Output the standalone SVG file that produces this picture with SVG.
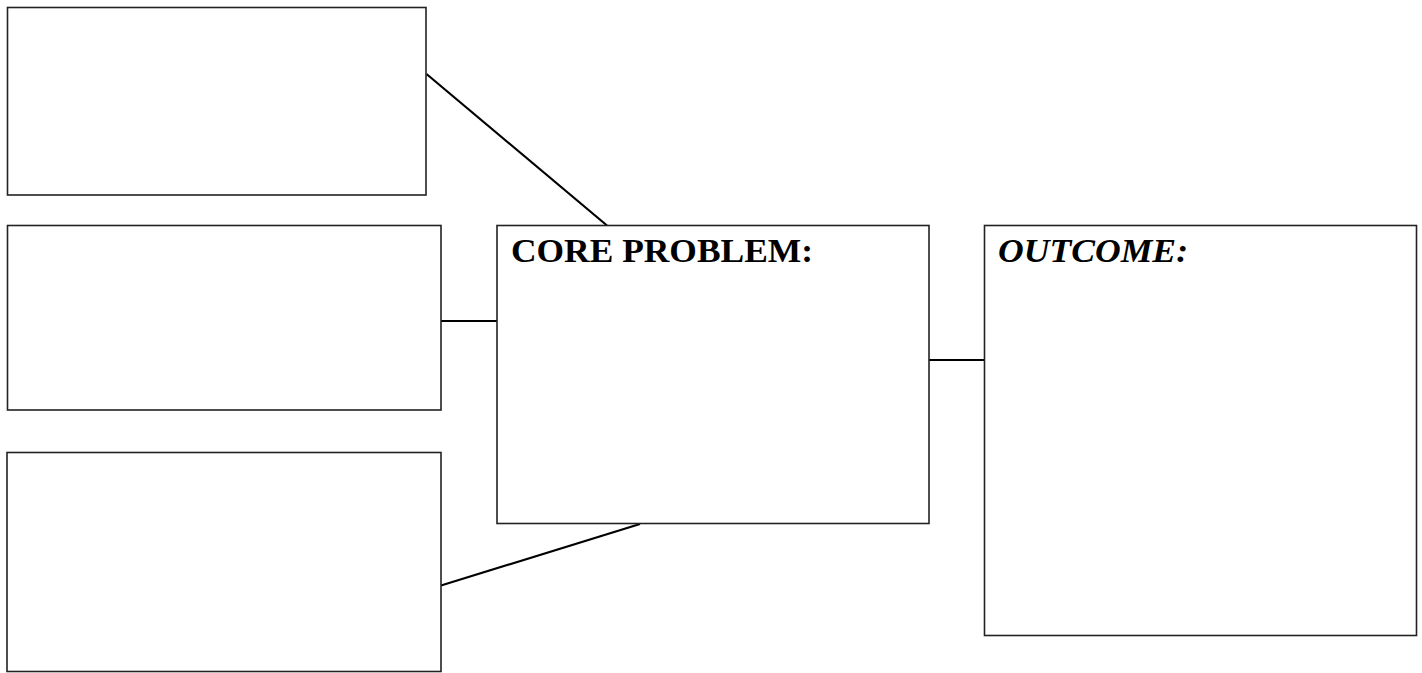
<svg xmlns="http://www.w3.org/2000/svg" width="1422" height="673" viewBox="0 0 1422 673">
<style>
.box{fill:#fff;stroke:#222;stroke-width:1.6}
.conn{stroke:#000;stroke-width:2.2;fill:none}
.lbl{font-family:"Liberation Serif","Times New Roman",serif;font-weight:bold;font-size:33px;fill:#000}
</style>
<rect width="1422" height="673" fill="#fff"/>
<g id="connectors">
<line class="conn" x1="426.5" y1="74" x2="607" y2="225.5"/>
<line class="conn" x1="441" y1="321" x2="497" y2="321"/>
<line class="conn" x1="929" y1="360" x2="984" y2="360"/>
<line class="conn" x1="441" y1="585.5" x2="640" y2="524"/>
</g>
<g id="box1"><rect class="box" x="7.5" y="7.5" width="418.5" height="187.5"/></g>
<g id="box2"><rect class="box" x="7.5" y="225.5" width="433.5" height="184.5"/></g>
<g id="box3"><rect class="box" x="7" y="452.5" width="434" height="219"/></g>
<g id="core"><rect class="box" x="497" y="225.5" width="432" height="298"/>
<text class="lbl" x="511" y="261.5" textLength="302" lengthAdjust="spacingAndGlyphs">CORE PROBLEM:</text></g>
<g id="outcome"><rect class="box" x="984.5" y="225.5" width="432" height="410"/>
<text class="lbl" x="998" y="261.5" font-style="italic" textLength="190" lengthAdjust="spacingAndGlyphs">OUTCOME:</text></g>
</svg>
